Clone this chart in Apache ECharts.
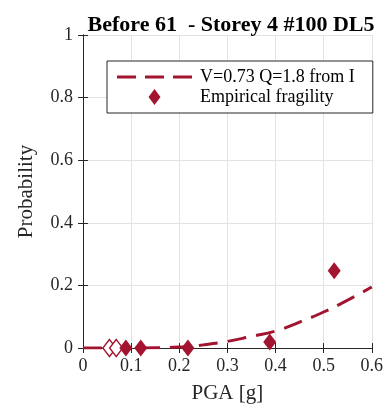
<!DOCTYPE html>
<html>
<head>
<meta charset="utf-8">
<script src="https://cdn.jsdelivr.net/npm/echarts@6/dist/echarts.min.js"></script>
<style>
html,body{margin:0;padding:0;background:#fff;}
#chart{width:386px;height:409px;}
</style>
</head>
<body>
<div id="chart"></div>
<script>
// Data
const curvePGA  = [0, 0.05, 0.1, 0.15, 0.2, 0.25, 0.3, 0.35, 0.4, 0.45, 0.5, 0.55, 0.6];
const curveProb = [0, 0, 0, 0.0005, 0.003, 0.01, 0.021, 0.037, 0.054, 0.083, 0.115, 0.153, 0.195];
const empPGA    = [0.089, 0.12, 0.218, 0.388, 0.522];
const empProb   = [0, 0, 0, 0.019, 0.247];
const openPGA   = [0.055, 0.069];
const openProb  = [0, 0];
const xTicks = [0, 0.1, 0.2, 0.3, 0.4, 0.5, 0.6];
const yTicks = [0, 0.2, 0.4, 0.6, 0.8, 1];
const titleText = 'Before 61  - Storey 4 #100 DL5';
const curveName = 'V=0.73 Q=1.8 from I';
const empName = 'Empirical fragility';

const RED = '#A2142F';
const FONT = '"Liberation Serif", "Times New Roman", serif';
const zip = (a, b) => a.map((v, i) => [v, b[i]]);

const chart = echarts.init(document.getElementById('chart'));
chart.setOption({
  animation: false,
  backgroundColor: '#fff',
  title: {
    text: titleText, left: 226, top: 9, textAlign: 'center',
    textStyle: { fontFamily: FONT, fontSize: 22, fontWeight: 'bold', color: '#000' }
  },
  grid: { left: 83, right: 8, top: 35, bottom: 60, containLabel: false },
  xAxis: [{
    type: 'value', min: 0, max: 0.6, interval: 0.1,
    name: 'PGA [g]', nameLocation: 'middle', nameGap: 35,
    nameTextStyle: { fontFamily: FONT, fontSize: 21, color: '#262626' },
    axisLine: { lineStyle: { color: '#262626', width: 1 } },
    axisTick: { inside: true, length: 5, lineStyle: { color: '#262626' } },
    axisLabel: { fontFamily: FONT, fontSize: 18, color: '#262626', margin: 9,
      formatter: v => xTicks.includes(+v.toFixed(1)) ? String(+v.toFixed(1)) : '' },
    splitLine: { show: true, lineStyle: { color: '#e3e3e3', width: 1 } }
  }, {
    type: 'value', min: 0, max: 0.6, interval: 0.1, position: 'top',
    axisLine: { show: true, lineStyle: { color: '#262626', width: 1 } },
    axisTick: { show: true, inside: true, length: 5, lineStyle: { color: '#262626' } },
    axisLabel: { show: false }, splitLine: { show: false }
  }],
  yAxis: [{
    type: 'value', min: 0, max: 1, interval: 0.2,
    name: 'Probability', nameLocation: 'middle', nameGap: 46, nameRotate: 90,
    nameTextStyle: { fontFamily: FONT, fontSize: 21, color: '#262626' },
    axisLine: { show: true, lineStyle: { color: '#262626', width: 1 } },
    axisTick: { show: true, inside: true, length: 5, lineStyle: { color: '#262626' } },
    axisLabel: { fontFamily: FONT, fontSize: 18, color: '#262626', margin: 10,
      formatter: v => yTicks.includes(+v.toFixed(1)) ? String(+v.toFixed(1)) : '' },
    splitLine: { show: true, lineStyle: { color: '#e3e3e3', width: 1 } }
  }, {
    type: 'value', min: 0, max: 1, interval: 0.2, position: 'right',
    axisLine: { show: true, lineStyle: { color: '#262626', width: 1 } },
    axisTick: { show: true, inside: true, length: 5, lineStyle: { color: '#262626' } },
    axisLabel: { show: false }, splitLine: { show: false }
  }],
  legend: {
    orient: 'vertical', left: 107, top: 61,
    data: [
      { name: curveName, icon: 'path://M0,0h19v3h-19z M28,0h19v3h-19z M56,0h19v3h-19z',
        itemStyle: { color: RED } },
      { name: empName, icon: 'path://M6,0L12,8L6,16L0,8Z', itemStyle: { color: RED } }
    ],
    itemWidth: 75, itemHeight: 16, itemGap: 2,
    padding: [7, 18, 7, 10],
    borderColor: '#262626', borderWidth: 1, backgroundColor: '#fff',
    textStyle: { fontFamily: FONT, fontSize: 18, color: '#000', padding: [0, 0, 0, 3] },
    selectedMode: false
  },
  series: [{
    name: curveName, type: 'line', data: zip(curvePGA, curveProb),
    smooth: true, symbol: 'none', showSymbol: false,
    lineStyle: { color: RED, width: 3, type: [19, 10] },
    itemStyle: { color: RED }, z: 2
  }, {
    name: 'open', type: 'scatter', data: zip(openPGA, openProb),
    symbol: 'diamond', symbolSize: [13, 17],
    itemStyle: { color: '#fff', borderColor: RED, borderWidth: 1.5, opacity: 1 }, z: 3
  }, {
    name: empName, type: 'scatter', data: zip(empPGA, empProb),
    symbol: 'diamond', symbolSize: [13, 17],
    itemStyle: { color: RED, opacity: 1 }, z: 4
  }]
});
</script>
</body>
</html>
